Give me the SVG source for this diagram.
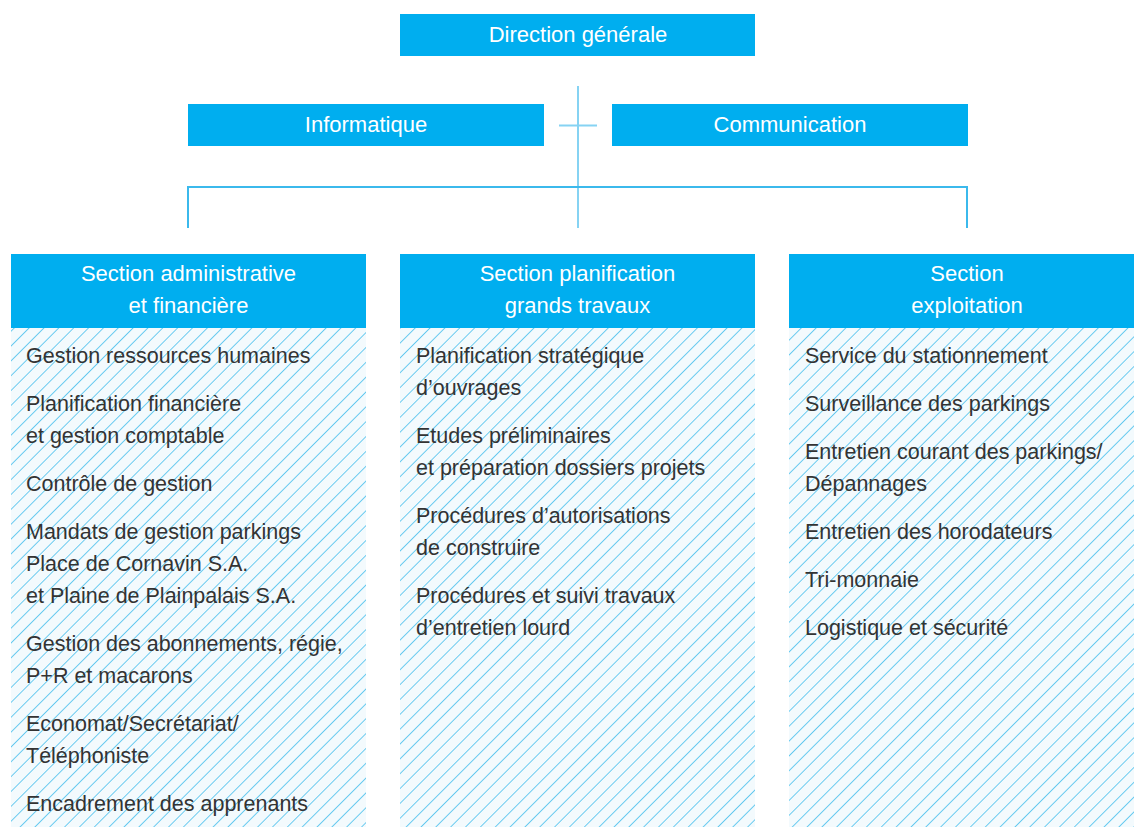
<svg xmlns="http://www.w3.org/2000/svg" width="1134" height="827" viewBox="0 0 1134 827">
<defs>
<pattern id="hatch" patternUnits="userSpaceOnUse" width="10.5" height="10.5" patternTransform="rotate(45)">
<rect width="10.5" height="10.5" fill="#f3fafd"/>
<line x1="0" y1="0" x2="0" y2="10.5" stroke="#5cc6ef" stroke-width="1.8"/>
</pattern>
<style>
.box{fill:#00aeef}
.hd{font-family:"Liberation Sans",Arial,sans-serif;font-size:22px;fill:#ffffff;text-anchor:middle}
.it{font-family:"Liberation Sans",Arial,sans-serif;font-size:21.5px;fill:#333333}
.body{fill:url(#hatch)}
.conn{fill:none;stroke:#3bb9ec;stroke-width:2}
.conn2{fill:none;stroke:#86d3f3;stroke-width:2}
</style>
</defs>
<rect width="1134" height="827" fill="#ffffff"/>
<g id="connectors">
<path class="conn2" d="M578 86 V228 M559 125.5 H597"/>
<path class="conn" d="M188 228 V187 H967 V228"/>
</g>
<g id="direction">
<rect class="box" x="400" y="14" width="355" height="42"/>
<text class="hd" x="578" y="42">Direction générale</text>
</g>
<g id="informatique">
<rect class="box" x="188" y="104" width="356" height="42"/>
<text class="hd" x="366" y="132">Informatique</text>
</g>
<g id="communication">
<rect class="box" x="612" y="104" width="356" height="42"/>
<text class="hd" x="790" y="132">Communication</text>
</g>
<g id="section-admin">
<rect class="body" x="11" y="328" width="355" height="499"/>
<rect class="box" x="11" y="254" width="355" height="74"/>
<text class="hd" x="188.5" y="281">Section administrative</text>
<text class="hd" x="188.5" y="313">et financière</text>
<g class="it">
<text x="26" y="363">Gestion ressources humaines</text>
<text x="26" y="411">Planification financière</text>
<text x="26" y="443">et gestion comptable</text>
<text x="26" y="491">Contrôle de gestion</text>
<text x="26" y="539">Mandats de gestion parkings</text>
<text x="26" y="571">Place de Cornavin S.A.</text>
<text x="26" y="603">et Plaine de Plainpalais S.A.</text>
<text x="26" y="651">Gestion des abonnements, régie,</text>
<text x="26" y="683">P+R et macarons</text>
<text x="26" y="731">Economat/Secrétariat/</text>
<text x="26" y="763">Téléphoniste</text>
<text x="26" y="811">Encadrement des apprenants</text>
</g>
</g>
<g id="section-planif">
<rect class="body" x="400" y="328" width="355" height="499"/>
<rect class="box" x="400" y="254" width="355" height="74"/>
<text class="hd" x="577.5" y="281">Section planification</text>
<text class="hd" x="577.5" y="313">grands travaux</text>
<g class="it">
<text x="416" y="363">Planification stratégique</text>
<text x="416" y="395">d’ouvrages</text>
<text x="416" y="443">Etudes préliminaires</text>
<text x="416" y="475">et préparation dossiers projets</text>
<text x="416" y="523">Procédures d’autorisations</text>
<text x="416" y="555">de construire</text>
<text x="416" y="603">Procédures et suivi travaux</text>
<text x="416" y="635">d’entretien lourd</text>
</g>
</g>
<g id="section-exploitation">
<rect class="body" x="789" y="328" width="355" height="499"/>
<rect class="box" x="789" y="254" width="355" height="74"/>
<text class="hd" x="967" y="281">Section</text>
<text class="hd" x="967" y="313">exploitation</text>
<g class="it">
<text x="805" y="363">Service du stationnement</text>
<text x="805" y="411">Surveillance des parkings</text>
<text x="805" y="459">Entretien courant des parkings/</text>
<text x="805" y="491">Dépannages</text>
<text x="805" y="539">Entretien des horodateurs</text>
<text x="805" y="587">Tri-monnaie</text>
<text x="805" y="635">Logistique et sécurité</text>
</g>
</g>
</svg>
